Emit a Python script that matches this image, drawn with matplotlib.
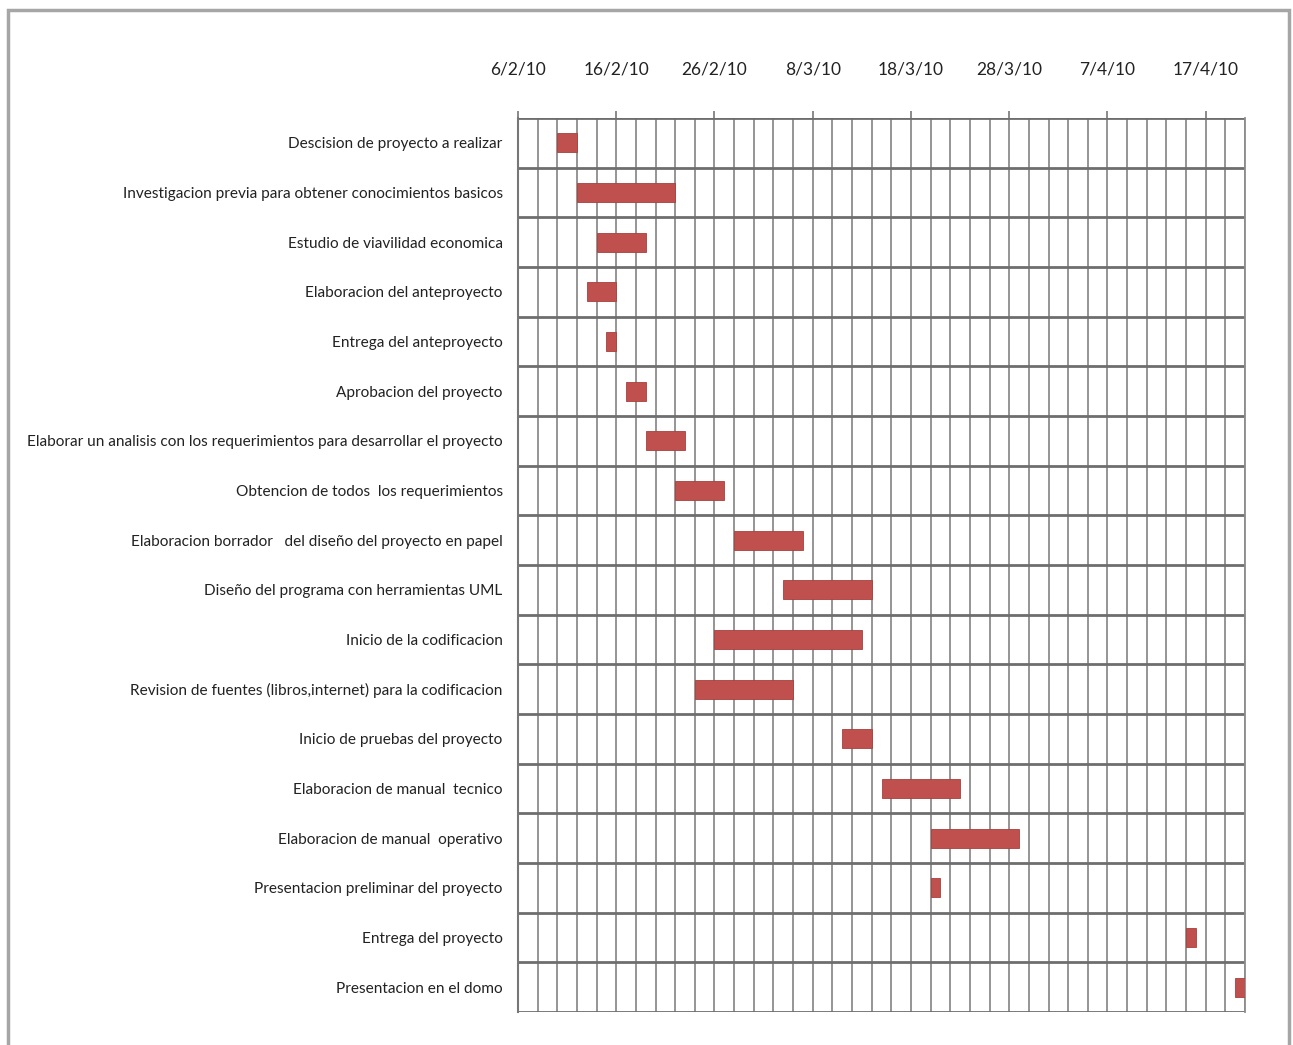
import datetime as dt
import matplotlib as mpl
import matplotlib.pyplot as plt
import matplotlib.dates as mdates
from matplotlib.ticker import FuncFormatter, MultipleLocator

#===========#
# task data #
#===========#
tasks = [
    "Descision de proyecto a realizar",
    "Investigacion previa para obtener conocimientos basicos",
    "Estudio de viavilidad economica",
    "Elaboracion del anteproyecto",
    "Entrega del anteproyecto",
    "Aprobacion del proyecto",
    "Elaborar un analisis con los requerimientos para desarrollar el proyecto",
    "Obtencion de todos  los requerimientos",
    "Elaboracion borrador   del diseño del proyecto en papel",
    "Diseño del programa con herramientas UML",
    "Inicio de la codificacion",
    "Revision de fuentes (libros,internet) para la codificacion",
    "Inicio de pruebas del proyecto",
    "Elaboracion de manual  tecnico",
    "Elaboracion de manual  operativo",
    "Presentacion preliminar del proyecto",
    "Entrega del proyecto",
    "Presentacion en el domo",
]
start = ["2010-02-10", "2010-02-12", "2010-02-14", "2010-02-13", "2010-02-15",
         "2010-02-17", "2010-02-19", "2010-02-22", "2010-02-28", "2010-03-05",
         "2010-02-26", "2010-02-24", "2010-03-11", "2010-03-15", "2010-03-20",
         "2010-03-20", "2010-04-15", "2010-04-20"]
days = [2, 10, 5, 3, 1, 2, 4, 5, 7, 9, 15, 10, 3, 8, 9, 1, 1, 1]

x_start = dt.date(2010, 2, 6)
x_end = dt.date(2010, 4, 21)

#==============#
# plot options #
#==============#
mpl.rcParams['font.family'] = ['Lato', 'DejaVu Sans']

fig = plt.figure(figsize=(12.93, 10.45), dpi=100)
ax = fig.add_axes([0.4006, 0.0316, 0.5623, 0.8555])

bar_col = '#c0504d'
left = [mdates.date2num(dt.date.fromisoformat(s)) for s in start]
ypos = list(range(len(tasks)))
ax.barh(ypos, days, left=left, height=0.38, color=bar_col,
        edgecolor='#a8403d', linewidth=0.6, zorder=3)

ax.set_ylim(len(tasks) - 0.5, -0.5)
ax.set_yticks(ypos)
ax.set_yticklabels(tasks, fontsize=11.1, color='#222222')
ax.tick_params(axis='y', length=0, pad=11)

ax.set_xlim(mdates.date2num(x_start), mdates.date2num(x_end))
x0 = mdates.date2num(x_start)
ax.xaxis.set_major_locator(MultipleLocator(10, offset=x0 % 10))
ax.xaxis.set_minor_locator(MultipleLocator(2, offset=x0 % 2))
ax.xaxis.set_major_formatter(FuncFormatter(
    lambda v, p: (lambda d: f"{d.day}/{d.month}/{d:%y}")(mdates.num2date(v))))
ax.xaxis.tick_top()
ax.tick_params(axis='x', which='major', length=5, width=1.2, color='#777777',
               pad=24, labelsize=12.5, labelcolor='#222222')
ax.tick_params(axis='x', which='minor', length=0)

# grid
ax.grid(axis='x', which='both', color='#8c8c8c', linewidth=1.3, zorder=0)
for b in range(len(tasks) + 1):
    ax.axhline(b - 0.5, color='#6e6e6e', linewidth=2, zorder=1)
ax.set_axisbelow(True)

for s in ['top', 'bottom']:
    ax.spines[s].set_visible(False)
ax.spines['left'].set_color('#777777')
ax.spines['left'].set_linewidth(1.5)
ax.spines['right'].set_color('#8c8c8c')
ax.spines['right'].set_linewidth(1.3)

# outer frame
fig.add_artist(plt.Rectangle((8 / 1293, -0.05), 1281 / 1293, 1.05 - 10 / 1045,
                             transform=fig.transFigure, fill=False,
                             edgecolor='#a6a6a6', linewidth=2.5))

fig.savefig("out.png", dpi=100)
